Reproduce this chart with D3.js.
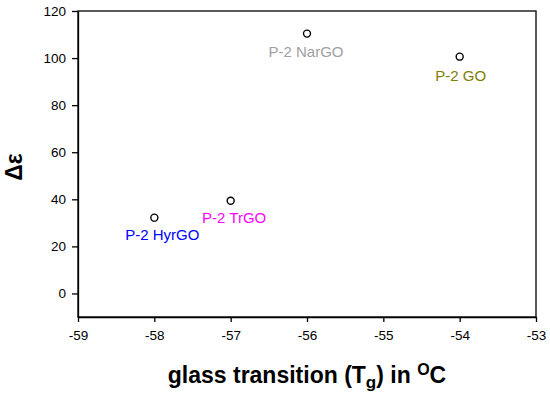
<!DOCTYPE html>
<html>
<head>
<meta charset="utf-8">
<script src="https://cdn.jsdelivr.net/npm/d3@7"></script>
<style>
  body { margin: 0; background: #fff; }
  text { font-family: Arial, "Liberation Sans", sans-serif; }
</style>
</head>
<body>
<div id="chart"></div>
<script>
// samples and their values
const samples = ["P-2 HyrGO", "P-2 TrGO", "P-2 NarGO", "P-2 GO"];
const tg = [-58, -57, -56, -54];
const deltaEps = [32.2, 39.4, 110.4, 100.6];
const labelColors = ["#0000ff", "#ff00ff", "#a0a0a0", "#808000"];
const xTicks = [-59, -58, -57, -56, -55, -54, -53];
const yTicks = [0, 20, 40, 60, 80, 100, 120];

const data = samples.map((s, i) => ({name: s, x: tg[i], y: deltaEps[i], color: labelColors[i]}));

const width = 550,
    height = 398,
    margin = ({top: 11, right: 14, bottom: 81, left: 78});

let svg = d3.select("#chart").append("svg")
    .attr("width", width)
    .attr("height", height);

let x = d3.scaleLinear()
    .domain([-59, -53])
    .range([margin.left, width - margin.right]);

let y = d3.scaleLinear()
    .domain([-10, 120])
    .range([height - margin.bottom, margin.top]);

// frame (top and right lines)
svg.append("rect")
    .attr("x", margin.left)
    .attr("y", margin.top)
    .attr("width", width - margin.right - margin.left)
    .attr("height", height - margin.bottom - margin.top)
    .attr("fill", "none")
    .attr("stroke", "#000")
    .attr("stroke-width", 1.3);

const fmt = d => String(d); // plain hyphen, no decimals

const xAxis = g => g
    .attr("transform", `translate(0, ${height - margin.bottom})`)
    .call(d3.axisBottom(x).tickValues(xTicks).tickFormat(fmt).tickSize(5).tickPadding(8).tickSizeOuter(0));

const yAxis = g => g
    .attr("transform", `translate(${margin.left}, 0)`)
    .call(d3.axisLeft(y).tickValues(yTicks).tickFormat(fmt).tickSize(6).tickPadding(6).tickSizeOuter(0));

svg.append("g").call(xAxis);
svg.append("g").call(yAxis);

svg.selectAll(".tick text")
    .attr("font-size", 13.5)
    .attr("font-family", "Arial, 'Liberation Sans', sans-serif")
    .attr("fill", "#000");
svg.selectAll(".domain, .tick line")
    .attr("stroke", "#000")
    .attr("stroke-width", 1.3);

// points
svg.selectAll(".pt")
    .data(data)
    .join("circle")
    .attr("class", "pt")
    .attr("cx", d => x(d.x))
    .attr("cy", d => y(d.y))
    .attr("r", 3.5)
    .attr("fill", "#fff")
    .attr("stroke", "#000")
    .attr("stroke-width", 1.4);

// point labels, placed below each marker
const labelOffsets = [[8, 22], [3.5, 22], [-1, 23], [1, 24]];
svg.selectAll(".lbl")
    .data(data)
    .join("text")
    .attr("class", "lbl")
    .attr("x", (d, i) => x(d.x) + labelOffsets[i][0])
    .attr("y", (d, i) => y(d.y) + labelOffsets[i][1])
    .attr("text-anchor", "middle")
    .attr("font-size", 15)
    .attr("fill", d => d.color)
    .text(d => d.name);

// axis titles
let xt = svg.append("text")
    .attr("x", (margin.left + width - margin.right) / 2)
    .attr("y", 383)
    .attr("text-anchor", "middle")
    .attr("font-size", 23)
    .attr("font-weight", "bold");
xt.append("tspan").text("glass transition (T");
xt.append("tspan").attr("font-size", 17).attr("dy", 5).text("g");
xt.append("tspan").attr("dy", -5).text(") in ");
xt.append("tspan").attr("font-size", 16).attr("dy", -8).text("O");
xt.append("tspan").attr("dy", 8).text("C");

svg.append("text")
    .attr("transform", `translate(22, ${(margin.top + height - margin.bottom) / 2 + 3}) rotate(-90)`)
    .attr("text-anchor", "middle")
    .attr("font-size", 23)
    .attr("font-weight", "bold")
    .text("Δε");
</script>
</body>
</html>
